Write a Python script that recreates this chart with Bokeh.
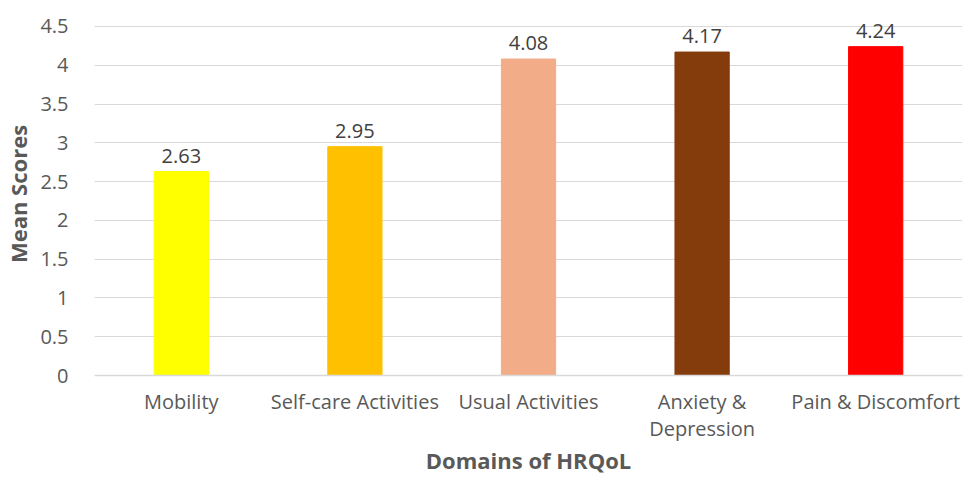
from bokeh.plotting import figure
from bokeh.models import ColumnDataSource, FactorRange, Range1d, FixedTicker
from bokeh.embed import file_html
from bokeh.resources import INLINE
from bokeh.core.properties import value

domains = ["Mobility", "Self-care Activities", "Usual Activities",
           "Anxiety &\nDepression", "Pain & Discomfort"]
scores = [2.63, 2.95, 4.08, 4.17, 4.24]
bar_colors = ["#FFFF00", "#FFC000", "#F2AC87", "#843C0C", "#FF0000"]
score_labels = ["2.63", "2.95", "4.08", "4.17", "4.24"]
ytick_values = [0, 0.5, 1, 1.5, 2, 2.5, 3, 3.5, 4, 4.5]
ytick_labels = ["0", "0.5", "1", "1.5", "2", "2.5", "3", "3.5", "4", "4.5"]
x_title = "Domains of HRQoL"
y_title = "Mean Scores"

FONT = "Open Sans"
GRAY = "#595959"

src = ColumnDataSource(dict(x=domains, y=scores, c=bar_colors, t=score_labels))

# range end slightly above 4.5 so that value labels above the tallest bars are not clipped
p = figure(x_range=FactorRange(factors=domains, range_padding=0),
           y_range=Range1d(0, 4.68),
           width=963, height=477,
           min_border_left=92, min_border_right=1, min_border_top=12,
           min_border_bottom=82,
           output_backend="svg", toolbar_location=None)

p.vbar(x="x", top="y", width=0.3125, color="c", source=src)
p.text(x="x", y="y", text="t", source=src, text_align="center",
       text_baseline="alphabetic", y_offset=-16, text_font=value(FONT),
       text_font_size="20px", text_color="#404040")

p.outline_line_color = None
p.xgrid.grid_line_color = None
p.ygrid.grid_line_color = "#D9D9D9"
p.ygrid.grid_line_width = 1.2

p.yaxis.ticker = FixedTicker(ticks=ytick_values)
p.yaxis.major_label_overrides = dict(zip(ytick_values, ytick_labels))
p.yaxis.axis_line_color = None
p.yaxis.major_tick_line_color = None
p.yaxis.minor_tick_line_color = None
p.yaxis.major_label_standoff = 20
p.yaxis.axis_label = y_title
p.yaxis.axis_label_standoff = 4

p.xaxis.axis_line_color = "#D9D9D9"
p.xaxis.axis_line_width = 1.5
p.xaxis.major_tick_line_color = None
p.xaxis.minor_tick_line_color = None
p.xaxis.major_label_standoff = 6
p.xaxis.major_label_text_line_height = 1.0
p.xaxis.major_label_orientation = "horizontal"
p.xaxis.axis_label = x_title
p.xaxis.axis_label_standoff = 0

for ax in (p.xaxis, p.yaxis):
    ax.major_label_text_font = FONT
    ax.major_label_text_font_size = "20px"
    ax.major_label_text_color = GRAY
    ax.axis_label_text_font = FONT
    ax.axis_label_text_font_size = "22px"
    ax.axis_label_text_font_style = "bold"
    ax.axis_label_text_color = GRAY

open("out.html", "w").write(file_html(p, INLINE))
